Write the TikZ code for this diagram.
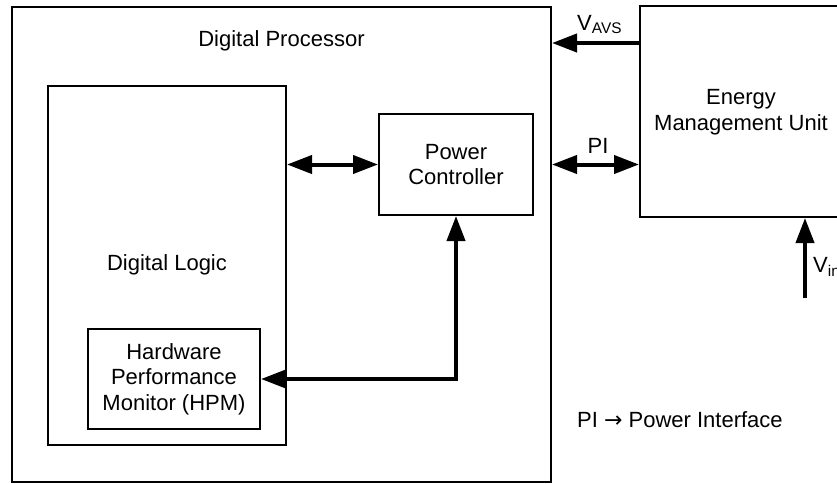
\documentclass[tikz,border=0pt]{standalone}
\usepackage{fontspec}
\setmainfont{Liberation Sans}
\newfontfamily\symfont{DejaVu Sans}
\usetikzlibrary{arrows.meta}
\tikzset{
  box/.style={draw=black, line width=2pt, inner sep=0pt, align=center},
  lbl/.style={inner sep=0pt, align=center},
  arr/.style={line width=4pt, -{Triangle[length=25pt,width=18pt]}},
  darr/.style={line width=4pt, {Triangle[length=25pt,width=18pt]}-{Triangle[length=25pt,width=18pt]}},
}
\begin{document}
\begin{tikzpicture}[x=1pt,y=-1pt,font=\fontsize{22}{25.5}\selectfont]
\useasboundingbox (0,0) rectangle (837,483);
\clip (0,0) rectangle (837,483);
% boxes
\node[box, minimum width=539pt, minimum height=475pt] (DP) at (281.5,244.5) {};
\node[lbl] (DPt) at (281.5,41) {Digital Processor};
\node[box, minimum width=238pt, minimum height=359pt] (DL) at (167,265.5) {};
\node[lbl] (DLt) at (167,265) {Digital Logic};
\node[box, minimum width=172pt, minimum height=100pt] (HPM) at (174,379) {Hardware\\Performance\\Monitor (HPM)};
\node[box, minimum width=154pt, minimum height=101pt] (PC) at (456,164.5) {Power\\Controller};
\node[box, minimum width=240pt, minimum height=211pt] (EMU) at (760,111.5) {};
\node[lbl] (EMUt) at (741,112) {Energy\\Management Unit};
% arrows
\draw[darr] (DL.east |- PC.west) -- (PC.west);
\draw[darr] (DP.east |- PC.east) -- (EMU.west |- PC.east);
\node[lbl] (PIl) at (598,146) {PI};
\coordinate (avs) at (640,43);
\draw[arr] (avs) -- (DP.east |- avs);
\node[lbl, anchor=base west] (AVSl) at (577,30) {V\textsubscript{AVS}};
\draw[darr, line join=miter] (HPM.east) -- (PC.south |- HPM.east) -- (PC.south);
\coordinate (vin) at (805,298);
\draw[arr] (vin) -- (vin |- EMU.south);
\node[lbl, anchor=base west] (VINl) at (813,272) {V\textsubscript{in}};
\node[lbl, anchor=west] (note) at (577,420) {PI {\symfont →} Power Interface};
\end{tikzpicture}
\end{document}
